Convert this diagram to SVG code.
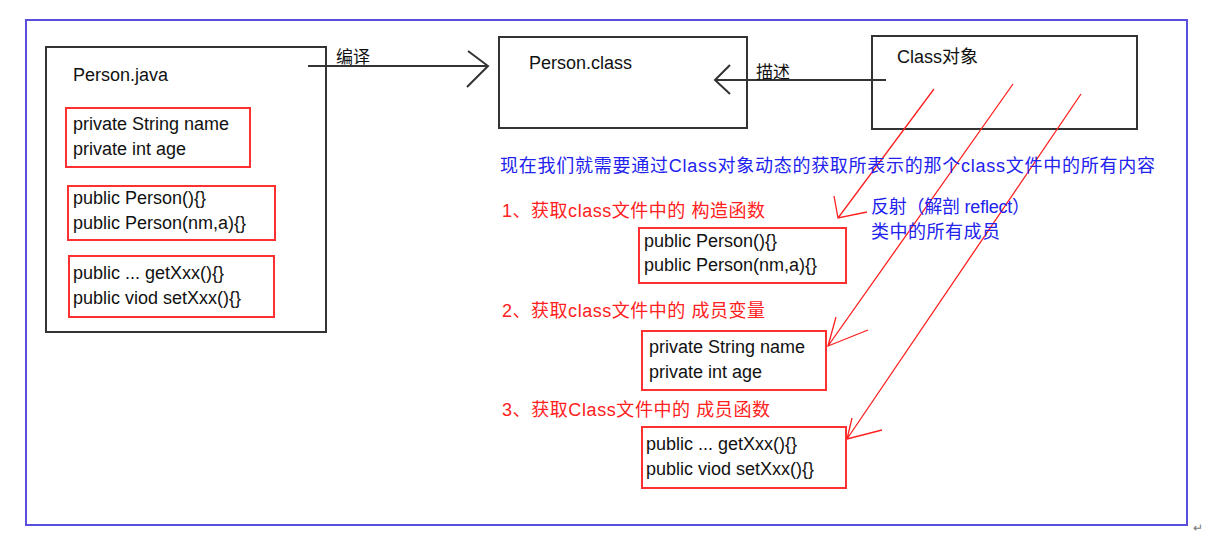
<svg xmlns="http://www.w3.org/2000/svg" width="1210" height="538" viewBox="0 0 1210 538">
<style>
text{font-family:"Liberation Sans","Noto Sans CJK SC",sans-serif;}
.blk{fill:#111;font-size:18px;}
.lbl{fill:#111;font-size:17px;}
.red{fill:#ff2020;font-size:18px;}
.blue{fill:#2222ee;font-size:18px;}
.box{fill:#fff;stroke:#333;stroke-width:2;}
.rbox{fill:none;stroke:#ff3030;stroke-width:2;}
.conn{fill:none;stroke:#333;stroke-width:2;}
.rl{fill:none;stroke:#ff2020;stroke-width:1.3;}
</style>
<rect width="1210" height="538" fill="#fff"/>
<rect x="26" y="20" width="1161" height="505" fill="none" stroke="#5a4fdc" stroke-width="2"/>
<text x="1193" y="532" font-size="12" fill="#777">↵</text>

<g id="person-java">
<rect class="box" x="46" y="47" width="280" height="285"/>
<text class="blk" x="73" y="81">Person.java</text>
<rect class="rbox" x="66" y="108" width="184" height="59"/>
<text class="blk" x="73" y="130">private String name</text>
<text class="blk" x="73" y="155">private int age</text>
<rect class="rbox" x="68" y="186" width="207" height="54"/>
<text class="blk" x="73" y="204">public Person(){}</text>
<text class="blk" x="73" y="229">public Person(nm,a){}</text>
<rect class="rbox" x="69" y="256" width="205" height="61"/>
<text class="blk" x="73" y="279">public ... getXxx(){}</text>
<text class="blk" x="73" y="304">public viod setXxx(){}</text>
</g>

<g id="person-class">
<rect class="box" x="499" y="37" width="248" height="91"/>
<text class="blk" x="529" y="69">Person.class</text>
</g>

<g id="class-object">
<rect class="box" x="872" y="36" width="265" height="93"/>
<text class="blk" x="897" y="63">Class对象</text>
</g>

<g id="connectors">
<path class="conn" d="M308 66 H488 M468 51 L488 66 L467 87"/>
<text class="lbl" x="336" y="63">编译</text>
<path class="conn" d="M886 80 H715 M730 65 L715 80 L730 94"/>
<text class="lbl" x="756" y="78">描述</text>
<path class="rl" d="M934 89 L838 218 M834 196 L838 218 L867 212"/>
<path class="rl" d="M1013 84 L828 346 M836 317 L828 346 L868 330"/>
<path class="rl" d="M1081 94 L847 439 M852 418 L847 439 L882 430"/>
</g>

<g id="description">
<text class="blue" x="500" y="172" textLength="655" lengthAdjust="spacing">现在我们就需要通过Class对象动态的获取所表示的那个class文件中的所有内容</text>
<text class="blue" x="871" y="213" textLength="159" lengthAdjust="spacing">反射（解剖 reflect）</text>
<text class="blue" x="871" y="238" textLength="129" lengthAdjust="spacing">类中的所有成员</text>
</g>

<g id="constructors">
<text class="red" x="502" y="217" textLength="263" lengthAdjust="spacing">1、获取class文件中的 构造函数</text>
<rect class="rbox" x="639" y="228" width="207" height="55"/>
<text class="blk" x="644" y="247">public Person(){}</text>
<text class="blk" x="644" y="271">public Person(nm,a){}</text>
</g>

<g id="fields">
<text class="red" x="502" y="317" textLength="263" lengthAdjust="spacing">2、获取class文件中的 成员变量</text>
<rect class="rbox" x="642" y="331" width="184" height="59"/>
<text class="blk" x="649" y="353">private String name</text>
<text class="blk" x="649" y="378">private int age</text>
</g>

<g id="methods">
<text class="red" x="502" y="416" textLength="268" lengthAdjust="spacing">3、获取Class文件中的 成员函数</text>
<rect class="rbox" x="642" y="427" width="204" height="61"/>
<text class="blk" x="646" y="450">public ... getXxx(){}</text>
<text class="blk" x="646" y="475">public viod setXxx(){}</text>
</g>
</svg>
